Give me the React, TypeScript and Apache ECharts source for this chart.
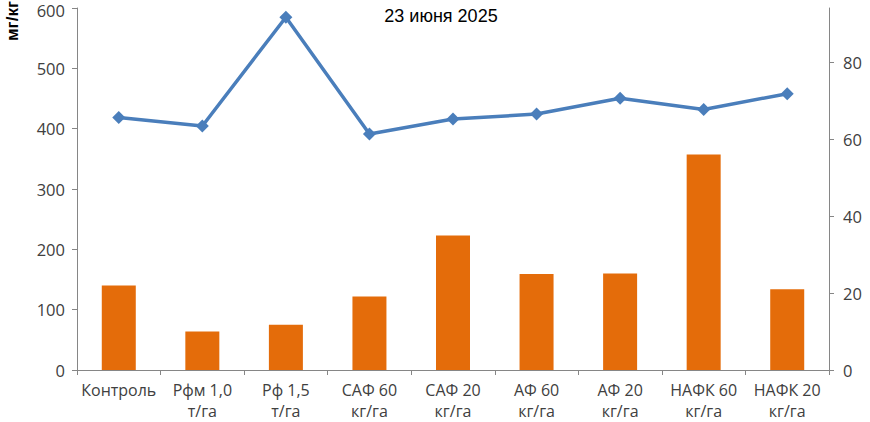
import React, { useEffect, useRef } from "react";
import * as echarts from "echarts";

const categories = [
  "Контроль",
  "Рфм 1,0\nт/га",
  "Рф 1,5\nт/га",
  "САФ 60\nкг/га",
  "САФ 20\nкг/га",
  "АФ 60\nкг/га",
  "АФ 20\nкг/га",
  "НАФК 60\nкг/га",
  "НАФК 20\nкг/га",
];
const barValues = [140, 64, 75, 122, 223, 159, 160, 357, 134];
const lineValues = [65.7, 63.5, 91.8, 61.4, 65.3, 66.6, 70.7, 67.8, 71.9];
const titleText = "23 июня 2025";
const unitText = "мг/кг";

export default function App() {
  const ref = useRef<HTMLDivElement>(null);
  useEffect(() => {
    if (!ref.current) return;
    const chart = echarts.init(ref.current, undefined, { renderer: "svg" });
    const labelColor = "#404040";
    const axisColor = "#868686";
    const labelFont = "'Open Sans', sans-serif";
    chart.setOption({
      animation: false,
      backgroundColor: "#ffffff",
      title: {
        text: titleText,
        left: 436,
        top: 2,
        textAlign: "center",
        textStyle: {
          fontFamily: "'Liberation Sans', Arial, sans-serif",
          fontSize: 18,
          fontWeight: "normal",
          color: "#000000",
        },
      },
      graphic: [
        {
          type: "text",
          x: 12,
          y: 21,
          rotation: Math.PI / 2,
          style: {
            text: unitText,
            fontFamily: "'Liberation Sans Narrow', 'Liberation Sans', Arial, sans-serif",
            fontSize: 17,
            fontWeight: "bold",
            fill: "#000000",
            align: "center",
            verticalAlign: "middle",
          },
        },
      ],
      grid: { left: 77, right: 41, top: 8, bottom: 52, outerBoundsMode: "none" },
      xAxis: {
        type: "category",
        data: categories,
        boundaryGap: true,
        axisLine: { lineStyle: { color: axisColor, width: 1 } },
        axisTick: { show: true, length: 5, lineStyle: { color: axisColor } },
        axisLabel: {
          color: labelColor,
          fontFamily: labelFont,
          fontSize: 16,
          lineHeight: 21,
          margin: 9,
          interval: 0,
        },
        splitLine: { show: false },
      },
      yAxis: [
        {
          type: "value",
          min: 0,
          max: 600,
          interval: 100,
          axisLine: { show: true, lineStyle: { color: axisColor, width: 1 } },
          axisTick: { show: true, length: 5, lineStyle: { color: axisColor } },
          axisLabel: {
            color: labelColor,
            fontFamily: labelFont,
            fontSize: 16.5,
            margin: 12,
            formatter: (v: number) => (v === 600 ? "{t|600}" : String(v)),
            rich: {
              t: {
                color: labelColor,
                fontFamily: labelFont,
                fontSize: 16.5,
                lineHeight: 16,
                padding: [5, 0, 0, 0],
              },
            },
          },
          splitLine: { show: false },
        },
        {
          type: "value",
          min: 0,
          max: 94.2,
          interval: 20,
          position: "right",
          axisLine: { show: true, lineStyle: { color: axisColor, width: 1 } },
          axisTick: { show: true, length: 5, lineStyle: { color: axisColor } },
          axisLabel: {
            color: labelColor,
            fontFamily: labelFont,
            fontSize: 16.5,
            margin: 14,
            showMaxLabel: false,
          },
          splitLine: { show: false },
        },
      ],
      series: [
        {
          type: "bar",
          yAxisIndex: 0,
          data: barValues,
          barWidth: 34,
          itemStyle: { color: "#E46C0A" },
        },
        {
          type: "line",
          yAxisIndex: 1,
          data: lineValues,
          symbol: "diamond",
          symbolSize: 13,
          z: 5,
          lineStyle: { color: "#4A7EBB", width: 3.5 },
          itemStyle: { color: "#4A7EBB" },
        },
      ],
    });
    return () => chart.dispose();
  }, []);
  return (
    <div
      ref={ref}
      style={{ position: "fixed", left: 0, top: 0, width: 870, height: 422 }}
    />
  );
}
